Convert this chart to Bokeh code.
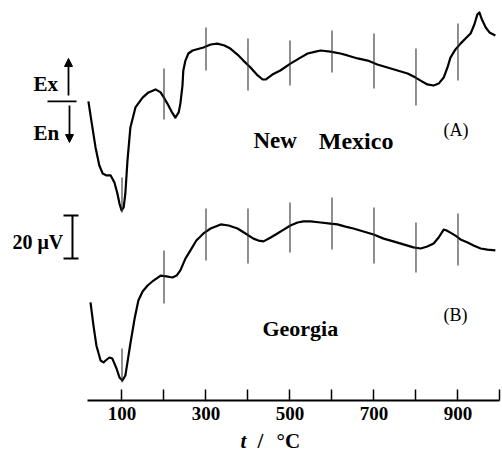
from bokeh.plotting import figure
from bokeh.layouts import column
from bokeh.models import Range1d, FixedTicker, Label, Arrow, NormalHead
from bokeh.core.properties import value
from bokeh.embed import file_html
from bokeh.resources import INLINE

# ---- data (temperature in °C, DTA signal in µV, arbitrary offset) ----
temp_a = [20, 27, 37, 46, 54, 63, 73, 82, 89, 94, 99, 104, 108, 113, 120, 132, 149, 163, 180, 192,
          201, 208, 218, 227, 235, 239, 244, 246, 251, 258, 268, 294, 311, 327, 344, 358, 375, 389,
          406, 423, 435, 442, 458, 477, 501, 525, 542, 561, 573, 596, 620, 637, 661, 685, 708, 732,
          756, 780, 799, 811, 827, 842, 854, 866, 875, 882, 894, 906, 918, 930, 939, 946, 951, 956,
          966, 975, 989]
signal_a = [139.1, 130.2, 117.7, 109.3, 105.6, 104.7, 104.7, 101.4, 96.3, 91.6, 88.4, 89.8, 96.3,
            111.6, 127.0, 136.3, 140.9, 143.3, 144.7, 143.3, 140.5, 138.1, 134.4, 131.6, 134.0,
            138.1, 146.5, 153.5, 158.1, 161.4, 162.8, 164.2, 165.6, 166.0, 165.1, 163.7, 160.9,
            158.1, 154.9, 151.2, 149.3, 149.3, 151.6, 153.5, 156.7, 159.5, 161.4, 162.3, 162.8,
            162.3, 161.4, 160.5, 159.1, 158.1, 156.3, 154.9, 153.5, 152.1, 150.2, 148.8, 147.0,
            146.5, 147.4, 150.2, 154.9, 159.5, 163.3, 166.0, 168.4, 170.7, 174.9, 179.5, 180.5,
            177.7, 173.5, 171.2, 169.8]

temp_b = [25, 32, 39, 49, 56, 61, 70, 77, 87, 94, 101, 108, 113, 120, 130, 139, 149, 161, 175, 192,
          206, 220, 230, 239, 251, 263, 277, 294, 311, 335, 354, 375, 394, 413, 425, 437, 454, 470,
          485, 501, 518, 532, 549, 573, 596, 613, 632, 651, 675, 699, 723, 746, 770, 794, 811, 827,
          842, 854, 866, 873, 882, 894, 906, 923, 937, 954, 970, 989]
signal_b = [45.6, 34.9, 25.6, 18.6, 17.7, 18.6, 20.0, 19.5, 14.9, 10.7, 9.3, 11.6, 17.7, 26.5, 38.1,
            46.5, 50.7, 53.5, 55.8, 58.1, 57.7, 57.2, 58.1, 60.5, 66.0, 69.8, 74.4, 77.7, 80.0,
            81.9, 81.4, 80.0, 77.7, 75.3, 74.4, 74.0, 75.8, 77.7, 79.5, 81.4, 82.8, 83.3, 83.3,
            82.8, 82.3, 81.9, 80.9, 80.0, 78.6, 77.2, 75.3, 74.0, 72.6, 71.2, 70.7, 71.6, 73.0,
            75.8, 79.5, 79.1, 78.1, 76.7, 74.9, 73.5, 72.1, 70.7, 70.2, 69.8]

# temperature marks drawn across each curve
mark_temps = [100, 200, 300, 400, 500, 600, 700, 800, 900]
mark_a_top = [103.7, 154.4, 173.5, 168.4, 167.4, 172.1, 170.7, 163.7, 175.3]
mark_a_bottom = [87.4, 130.7, 153.5, 144.2, 146.5, 152.6, 145.1, 137.2, 148.8]
mark_b_top = [24.2, 69.8, 89.3, 89.3, 92.1, 94.4, 89.8, 82.8, 87.0]
mark_b_bottom = [8.4, 45.1, 65.1, 63.7, 68.8, 70.2, 63.7, 59.5, 62.8]

# axis ticks
labelled_ticks = [100, 300, 500, 700, 900]
unlabelled_ticks = [200, 400, 600, 800, 1000]

# scale bar (µV)
scale_low, scale_high = 66.0, 86.0

SERIF = "Liberation Serif"

p = figure(width=502, height=424,
           x_range=Range1d(-189.3, 1006.0), y_range=Range1d(0, 186.05),
           output_backend="svg", toolbar_location=None,
           min_border_left=0, min_border_right=0, min_border_top=0, min_border_bottom=24,
           y_axis_location=None, outline_line_color=None,
           background_fill_color="white", border_fill_color="white")
p.xgrid.grid_line_color = None
p.ygrid.grid_line_color = None

ax = p.xaxis[0]
ax.ticker = FixedTicker(ticks=labelled_ticks, minor_ticks=unlabelled_ticks)
ax.bounds = (17, 1000)
ax.axis_line_width = 2
ax.axis_line_color = "black"
ax.major_tick_in = 11
ax.major_tick_out = 0
ax.minor_tick_in = 11
ax.minor_tick_out = 0
ax.major_tick_line_width = 1.5
ax.minor_tick_line_width = 1.5
ax.major_tick_line_color = "black"
ax.minor_tick_line_color = "black"
ax.major_label_text_font = SERIF
ax.major_label_text_font_style = "bold"
ax.major_label_text_font_size = "19px"
ax.major_label_text_color = "black"
ax.major_label_standoff = 6

# curves
p.line(temp_a, signal_a, line_color="black", line_width=2.2, line_join="round")
p.line(temp_b, signal_b, line_color="black", line_width=2.2, line_join="round")

# temperature marks
p.segment(x0=mark_temps, y0=mark_a_bottom, x1=mark_temps, y1=mark_a_top,
          line_color="#333333", line_width=1.1)
p.segment(x0=mark_temps, y0=mark_b_bottom, x1=mark_temps, y1=mark_b_top,
          line_color="#333333", line_width=1.1)

# Ex / En indicator
p.segment(x0=[-77.4], y0=[139.1], x1=[-8.3], y1=[139.1], line_color="black", line_width=1.8)
p.add_layout(Arrow(end=NormalHead(size=8, fill_color="black", line_color="black"),
                   x_start=-27.4, y_start=141.9, x_end=-27.4, y_end=159.1,
                   line_width=1.8, line_color="black"))
p.add_layout(Arrow(end=NormalHead(size=8, fill_color="black", line_color="black"),
                   x_start=-25.0, y_start=137.2, x_end=-25.0, y_end=120.0,
                   line_width=1.8, line_color="black"))

# scale bar
p.segment(x0=[-17.9], y0=[scale_low], x1=[-17.9], y1=[scale_high], line_color="black", line_width=2)
p.segment(x0=[-39.3, -39.3], y0=[scale_low, scale_high], x1=[-3.6, -3.6], y1=[scale_low, scale_high],
          line_color="black", line_width=2)


def lab(x, y, text, size, style="bold"):
    p.add_layout(Label(x=x, y=y, text=text, text_font=SERIF, text_font_size=size,
                       text_font_style=style, text_color="black",
                       text_align="left", text_baseline="alphabetic"))


lab(-110.7, 147.4, "Ex", "21px")
lab(-110.7, 124.2, "En", "21px")
lab(-160.7, 73.5, "20 μV", "20px")
lab(413.1, 120.9, "New", "23px")
lab(568.6, 120.9, "Mexico", "24px")
lab(865.5, 126.0, "(A)", "18px", "normal")
lab(434.5, 33.5, "Georgia", "22px")
lab(865.5, 40.0, "(B)", "18px", "normal")

# axis title strip below the main plot (shares the temperature scale)
q = figure(width=502, height=30, x_range=p.x_range, y_range=Range1d(0, 30),
           output_backend="svg", toolbar_location=None,
           min_border_left=0, min_border_right=0, min_border_top=0, min_border_bottom=0,
           x_axis_location=None, y_axis_location=None, outline_line_color=None,
           background_fill_color="white", border_fill_color="white")
q.xgrid.grid_line_color = None
q.ygrid.grid_line_color = None
q.text(x=[382.2], y=[14], text=["t"], text_font=value(SERIF), text_font_size="21px",
       text_font_style="bold italic", text_color="black", text_baseline="middle")
q.text(x=[422.6, 467.9], y=[14, 14], text=["/", "°C"], text_font=value(SERIF), text_font_size="21px",
       text_font_style="bold", text_color="black", text_baseline="middle")

open("out.html", "w").write(file_html(column(p, q, spacing=0), INLINE))
